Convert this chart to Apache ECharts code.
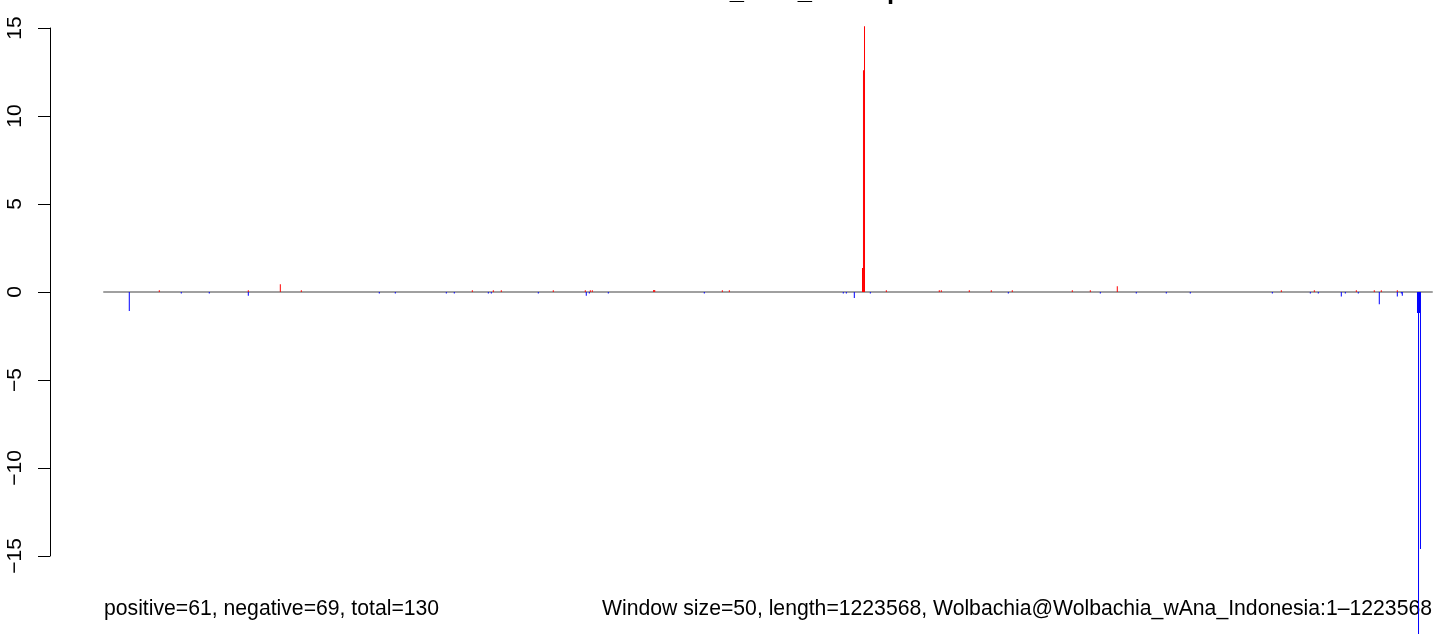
<!DOCTYPE html>
<html>
<head>
<meta charset="utf-8">
<script src="https://cdn.jsdelivr.net/npm/echarts@6/dist/echarts.min.js"></script>
<style>html,body{margin:0;padding:0;background:#fff;}#c{width:1452px;height:634px;}</style>
</head>
<body>
<div id="c"></div>
<script>
// genome length and window
const genomeLength = 1223568;
const yTicks = [-15, -10, -5, 0, 5, 10, 15];
const titleText = "Illumina_read_overlap";
const footLeft = "positive=61, negative=69, total=130";
const footRight = "Window size=50, length=1223568, Wolbachia@Wolbachia_wAna_Indonesia:1\u20131223568";

// positive windows (red): [position, value]
const posPositions = [50950, 132950, 162450, 181800, 339350, 358700, 366050, 413950, 443450, 448050, 449900, 506450, 507400, 569700, 576150, 698850, 699750, 700700, 720800, 769600, 771450, 797250, 817500, 836850, 892150, 908750, 933600, 1084750, 1115150, 1153850, 1170400, 1176850, 1191600];
const posValues    = [0.1, 0.1, 0.44, 0.1, 0.1, 0.1, 0.1, 0.1, 0.1, 0.1, 0.1, 0.12, 0.12, 0.1, 0.1, 1.36, 12.6, 15.1, 0.1, 0.1, 0.1, 0.1, 0.1, 0.1, 0.1, 0.1, 0.32, 0.1, 0.1, 0.1, 0.1, 0.1, 0.1];

// negative windows (blue): [position, value]
const negPositions = [23300, 71200, 97000, 132950, 253650, 268400, 315400, 322750, 354100, 356850, 400150, 444350, 447150, 464650, 553100, 681150, 683950, 691300, 706050, 833200, 917950, 951100, 978750, 1000850, 1076450, 1111450, 1118800, 1140000, 1143700, 1155650, 1175000, 1191600, 1195300, 1196200, 1210200, 1211150, 1212050, 1212950];
const negValues    = [-1.08, -0.08, -0.08, -0.22, -0.08, -0.08, -0.08, -0.08, -0.08, -0.08, -0.08, -0.22, -0.08, -0.08, -0.08, -0.08, -0.08, -0.34, -0.08, -0.08, -0.08, -0.08, -0.08, -0.08, -0.08, -0.08, -0.08, -0.25, -0.08, -0.08, -0.7, -0.25, -0.08, -0.22, -1.2, -20, -1.2, -14.6];

const chart = echarts.init(document.getElementById('c'), null, {renderer: 'canvas'});
const font = "'Liberation Sans', Arial, Helvetica, sans-serif";
const option = {
  animation: false,
  backgroundColor: '#ffffff',
  grid: {left: 104, right: 20, top: 28, bottom: 78, containLabel: false},
  xAxis: {
    type: 'value', min: 0, max: genomeLength,
    axisLine: {show: true, onZero: true, lineStyle: {color: '#a0a0a0', width: 2}},
    axisTick: {show: false}, axisLabel: {show: false}, splitLine: {show: false}
  },
  yAxis: {
    type: 'value', min: yTicks[0], max: yTicks[yTicks.length - 1], interval: 5,
    offset: 54,
    axisLine: {show: true, onZero: false, lineStyle: {color: '#000', width: 1}},
    axisTick: {show: true, length: 12, lineStyle: {color: '#000'}},
    axisLabel: {show: true, rotate: 90, margin: 24, fontSize: 21, color: '#000', fontFamily: font,
      formatter: v => (v < 0 ? '\u2212' + Math.abs(v) : String(v))},
    splitLine: {show: false}
  },
  series: [
    {type: 'bar', name: 'positive', clip: false, barWidth: 1, barGap: '-100%',
     itemStyle: {color: '#ff0000'},
     data: posPositions.map((p, i) => [p, posValues[i]])},
    {type: 'bar', name: 'negative', clip: false, barWidth: 1, barGap: '-100%',
     itemStyle: {color: '#0000ff'},
     data: negPositions.map((p, i) => [p, negValues[i]])}
  ],
  graphic: [
    {type: 'text', x: 768, y: 5, style: {text: titleText, font: "bold 25.5px " + font, fill: '#000', align: 'center', verticalAlign: 'bottom'}},
    {type: 'text', left: 104, top: 599, style: {text: footLeft, font: "21.2px " + font, fill: '#000'}},
    {type: 'text', right: 20, top: 599, style: {text: footRight, font: "21.2px " + font, fill: '#000'}}
  ]
};
chart.setOption(option);
</script>
</body>
</html>
